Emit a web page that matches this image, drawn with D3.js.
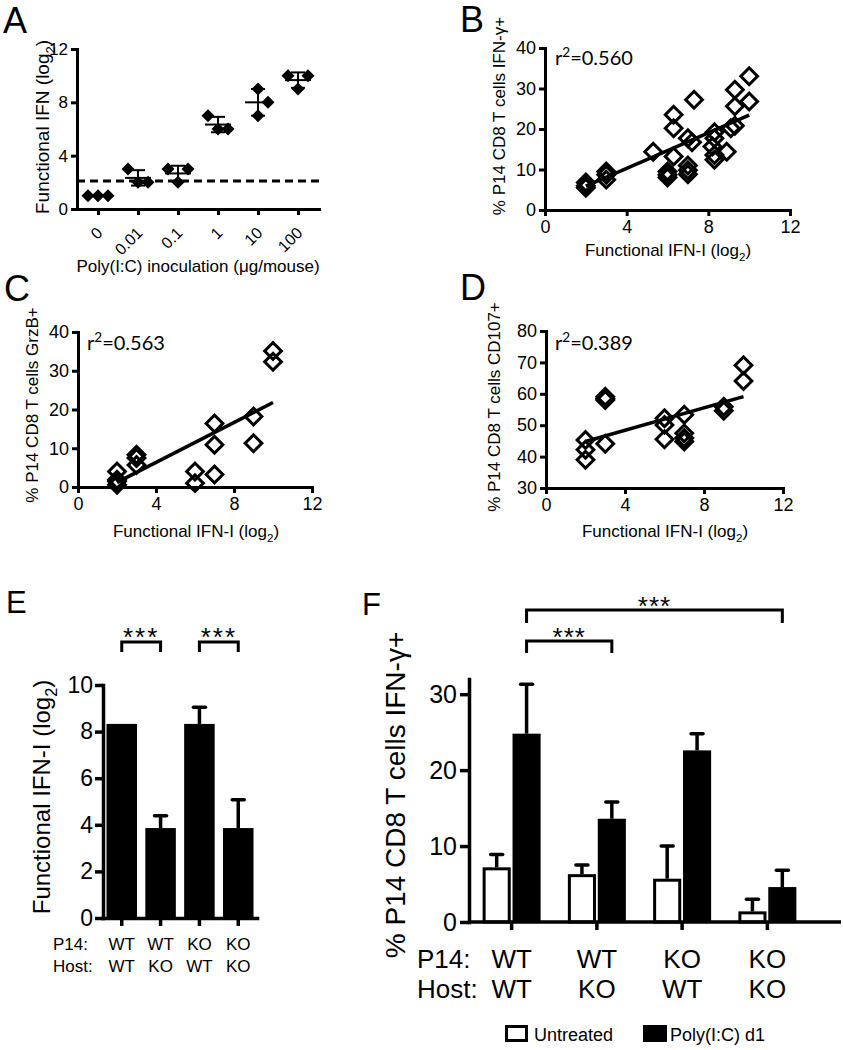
<!DOCTYPE html>
<html><head><meta charset="utf-8">
<script src="https://cdn.jsdelivr.net/npm/d3@7"></script>
<style>
body{margin:0;background:#fff;}
svg{display:block;font-family:"Liberation Sans",Arial,Helvetica,sans-serif;}
</style></head><body>
<svg id="fig" width="843" height="1050"></svg>
<script>
// ================= DATA =================
// Panel A: functional IFN (log2) per poly(I:C) dose
const aDoses = ["0", "0.01", "0.1", "1", "10", "100"];
const aValues = [[1, 1, 1], [3, 2, 2], [3, 2, 3], [7, 6, 6], [9, 7, 8], [10, 9, 10]];
const aDetectionLimit = 2.1;
const aYTicks = [0, 4, 8, 12];

// Panel B: % IFN-γ+ vs functional IFN-I
const bX = [2, 2, 2, 3, 3, 3, 5.3, 6, 6, 6, 6.3, 6.3, 6.3, 7, 7, 7, 7, 7.3, 7.2, 8.3, 8.3, 8.2, 8.3, 8.3, 8.9, 9.1, 9.3, 9.3, 9.3, 10, 10];
const bY = [6.8, 6.0, 5.5, 9.5, 8.7, 7.5, 14.4, 9.5, 8.7, 8.0, 23.5, 20.2, 13.2, 17.7, 11.0, 9.8, 8.8, 27.2, 16.7, 19.2, 17.7, 15.7, 13.6, 12.4, 14.4, 20.2, 29.7, 25.6, 20.8, 33.0, 26.8];
const bFit = [[2, 5.9], [10, 23.4]];
const bR2 = "0.560";

// Panel C: % GrzB+ vs functional IFN-I
const cX = [2, 2, 2, 2, 3, 3, 3, 6, 6, 7, 7, 7, 9, 9, 10, 10];
const cY = [4.0, 1.9, 1.5, 0.6, 8.3, 7.5, 5.7, 4.0, 1.0, 16.4, 10.9, 3.2, 18.2, 11.3, 35.1, 32.3];
const cFit = [[2, 1.2], [10, 21.8]];
const cR2 = "0.563";

// Panel D: % CD107+ vs functional IFN-I
const dX = [2, 2, 2, 3, 3, 3, 3, 6, 6, 6, 7, 7, 7, 7, 9, 9, 10, 10];
const dY = [45.3, 42.2, 39.0, 59.1, 58.5, 58.0, 44.1, 52.2, 50.1, 45.5, 53.3, 47.4, 45.9, 44.8, 55.9, 54.6, 69.1, 64.1];
const dFit = [[2, 44.8], [10, 59.1]];
const dR2 = "0.389";

const ifnXTicks = [0, 4, 8, 12];

// Panel E: functional IFN-I by P14 / host genotype
const eP14 = ["WT", "WT", "KO", "KO"];
const eHost = ["WT", "KO", "WT", "KO"];
const eMean = [8.33, 3.86, 8.33, 3.86];
const eErr = [0, 0.53, 0.71, 1.21];
const eYTicks = [0, 2, 4, 6, 8, 10];
const eSig = [[0, 1, "***"], [2, 3, "***"]];

// Panel F: % P14 IFN-γ+ by genotype and treatment
const fP14 = ["WT", "WT", "KO", "KO"];
const fHost = ["WT", "KO", "WT", "KO"];
const fSeries = ["Untreated", "Poly(I:C) d1"];
const fUntreated = [7.2, 6.3, 5.7, 1.4];
const fUntreatedErr = [1.7, 1.2, 4.3, 1.6];
const fPoly = [24.8, 13.6, 22.6, 4.6];
const fPolyErr = [6.5, 2.2, 2.2, 2.2];
const fYTicks = [0, 10, 20, 30];
const fSig = [[0, 1, "***"], [0, 3, "***"]];

// ================= HELPERS =================
const svg = d3.select("#fig");
svg.append("rect").attr("width", 843).attr("height", 1050).attr("fill", "#fff");

function richText(parent, x, y, parts, fs, anchor, rotate, family) {
  const t = parent.append("text").attr("font-size", fs).attr("text-anchor", anchor || "start").attr("fill", "#000");
  if (family) t.attr("font-family", family);
  if (rotate) t.attr("transform", `translate(${x},${y}) rotate(${rotate})`);
  else t.attr("x", x).attr("y", y);
  let shift = 0;
  parts.forEach(p => {
    const [s, type] = typeof p === "string" ? [p, ""] : p;
    const ts = t.append("tspan").text(s);
    const target = type === "sub" ? fs * 0.3 : type === "sup" ? -fs * 0.4 : 0;
    if (target !== shift) { ts.attr("dy", target - shift); shift = target; }
    if (type) ts.attr("font-size", fs * 0.68);
  });
  return t;
}

function drawAxis(g, axis, sw, fs) {
  g.call(axis);
  g.attr("font-family", null).attr("font-size", fs);
  g.select(".domain").attr("stroke", "#000").attr("stroke-width", sw).attr("stroke-linecap", "square");
  g.selectAll(".tick line").attr("stroke", "#000").attr("stroke-width", sw);
  g.selectAll(".tick text").attr("fill", "#000");
  return g;
}

function panelLetter(x, y, s, fs) {
  svg.append("text").attr("x", x).attr("y", y).attr("font-size", fs).attr("fill", "#000").text(s);
}

// ================= PANEL A =================
{
  const g = svg.append("g");
  const x = d3.scalePoint().domain(aDoses).range([77, 319]).padding(0.525);
  const y = d3.scaleLinear().domain([0, 12]).range([209, 49]);
  drawAxis(g.append("g").attr("transform", "translate(77,0)"),
    d3.axisLeft(y).tickValues(aYTicks).tickSize(6).tickSizeOuter(0).tickPadding(3), 3, 17);
  const gx = drawAxis(g.append("g").attr("transform", "translate(0,209)"),
    d3.axisBottom(x).tickSize(6).tickSizeOuter(0), 3, 16);
  gx.selectAll(".tick text").attr("x", null).attr("y", null).attr("dy", null)
    .attr("text-anchor", "end").attr("transform", "translate(5,25) rotate(-45)");

  // detection limit
  g.append("line").attr("x1", x.range()[0]).attr("x2", x.range()[1])
    .attr("y1", y(aDetectionLimit)).attr("y2", y(aDetectionLimit))
    .attr("stroke", "#000").attr("stroke-width", 3).attr("stroke-dasharray", "8,5");

  const jitter = [[-1, 0, 1], [-1, 0, 1], [-1, 0, 1], [-1, 0, 1], [0, 0, 1], [-1, 0, 1]];
  const pts = [];
  aValues.forEach((vals, i) => vals.forEach((v, j) => pts.push({ dose: aDoses[i], v, j: jitter[i][j] })));
  const sym = d3.symbol(d3.symbolSquare, 85)();
  g.selectAll("path.pt").data(pts).join("path").attr("class", "pt").attr("d", sym)
    .attr("transform", d => `translate(${x(d.dose) + d.j * 10},${y(d.v)}) rotate(45)`)
    .attr("fill", "#000");

  // mean ± SD
  aValues.forEach((vals, i) => {
    const m = d3.mean(vals), sd = d3.deviation(vals) || 0, cx = x(aDoses[i]);
    g.append("line").attr("x1", cx - 13).attr("x2", cx + 13).attr("y1", y(m)).attr("y2", y(m)).attr("stroke", "#000").attr("stroke-width", 2);
    if (sd > 0) {
      g.append("line").attr("x1", cx).attr("x2", cx).attr("y1", y(m - sd)).attr("y2", y(m + sd)).attr("stroke", "#000").attr("stroke-width", 2);
      [m - sd, m + sd].forEach(e => g.append("line").attr("x1", cx - 7).attr("x2", cx + 7).attr("y1", y(e)).attr("y2", y(e)).attr("stroke", "#000").attr("stroke-width", 2));
    }
  });

  richText(g, 49, 127, ["Functional IFN (log", ["2", "sub"], ")"], 19, "middle", -90);
  richText(g, 198, 272, ["Poly(I:C) inoculation (\u03bcg/mouse)"], 17, "middle");
  panelLetter(3, 33, "A", 36);
}

// ================= PANELS B, C, D =================
function scatter(cfg) {
  const g = svg.append("g");
  const x = d3.scaleLinear().domain([0, 12]).range(cfg.xr);
  const y = d3.scaleLinear().domain(cfg.yd).range(cfg.yr);
  drawAxis(g.append("g").attr("transform", `translate(${cfg.xr[0]},0)`),
    d3.axisLeft(y).tickValues(cfg.yt).tickSize(6).tickSizeOuter(0).tickPadding(3).tickFormat(d3.format("d")), 3, 18);
  drawAxis(g.append("g").attr("transform", `translate(0,${cfg.yr[0]})`),
    d3.axisBottom(x).tickValues(ifnXTicks).tickSize(6).tickSizeOuter(0).tickPadding(4).tickFormat(d3.format("d")), 3, 18);
  g.append("path").attr("d", d3.line().x(d => x(d[0])).y(d => y(d[1]))(cfg.fit))
    .attr("fill", "none").attr("stroke", "#000").attr("stroke-width", 3.5);
  const sym = d3.symbol(d3.symbolSquare, 140)();
  g.selectAll("path.pt").data(d3.zip(cfg.px, cfg.py)).join("path").attr("class", "pt").attr("d", sym)
    .attr("transform", d => `translate(${x(d[0])},${y(d[1])}) rotate(45)`)
    .attr("fill", "none").attr("stroke", "#000").attr("stroke-width", 3);
  richText(g, cfg.r2pos[0], cfg.r2pos[1], ["r", ["2", "sup"], "=" + cfg.r2], 20, "start", 0, "Lato, 'Open Sans', sans-serif");
  richText(g, cfg.ylab[0], cfg.ylab[1], [cfg.ytext], 17, "middle", -90);
  richText(g, cfg.xlab[0], cfg.xlab[1], ["Functional IFN-I (log", ["2", "sub"], ")"], 17, "middle");
  panelLetter(cfg.letter[0], cfg.letter[1], cfg.letter[2], 36);
}

scatter({ xr: [545, 790], yd: [0, 40], yr: [210, 48], yt: [0, 10, 20, 30, 40], px: bX, py: bY, fit: bFit, r2: bR2,
  r2pos: [555, 65], ylab: [505, 116], ytext: "% P14 CD8 T cells IFN-\u03b3+", xlab: [668, 256], letter: [460, 32, "B"] });
scatter({ xr: [78, 312], yd: [0, 40], yr: [487, 332], yt: [0, 10, 20, 30, 40], px: cX, py: cY, fit: cFit, r2: cR2,
  r2pos: [87, 350], ylab: [38, 405], ytext: "% P14 CD8 T cells GrzB+", xlab: [196, 537], letter: [4, 301, "C"] });
scatter({ xr: [546, 783], yd: [30, 80], yr: [488, 331], yt: [30, 40, 50, 60, 70, 80], px: dX, py: dY, fit: dFit, r2: dR2,
  r2pos: [555, 350], ylab: [500, 407], ytext: "% P14 CD8 T cells CD107+", xlab: [665, 537], letter: [460, 300, "D"] });

// ================= PANEL E =================
{
  const g = svg.append("g");
  const groups = eP14.map((p, i) => p + "/" + eHost[i]);
  const x = d3.scaleBand().domain(groups).range([103, 257]).paddingInner(0.214).paddingOuter(0.09);
  const y = d3.scaleLinear().domain([0, 10]).range([918, 685]);
  const sw = 3.5;
  // error bars (behind bars)
  groups.forEach((gr, i) => {
    if (eErr[i] <= 0) return;
    const cx = x(gr) + x.bandwidth() / 2;
    g.append("line").attr("x1", cx).attr("x2", cx).attr("y1", y(eMean[i])).attr("y2", y(eMean[i] + eErr[i])).attr("stroke", "#000").attr("stroke-width", sw);
    g.append("line").attr("x1", cx - 6).attr("x2", cx + 6).attr("y1", y(eMean[i] + eErr[i])).attr("y2", y(eMean[i] + eErr[i])).attr("stroke", "#000").attr("stroke-width", sw).attr("stroke-linecap", "round");
  });
  g.selectAll("rect.bar").data(groups).join("rect").attr("class", "bar")
    .attr("x", d => x(d)).attr("width", x.bandwidth())
    .attr("y", (d, i) => y(eMean[i])).attr("height", (d, i) => y(0) - y(eMean[i])).attr("fill", "#000");
  drawAxis(g.append("g").attr("transform", "translate(103,0)"),
    d3.axisLeft(y).tickValues(eYTicks).tickSize(8).tickSizeOuter(0).tickPadding(2), sw, 23);
  drawAxis(g.append("g").attr("transform", "translate(0,918)"),
    d3.axisBottom(x).tickSize(8).tickSizeOuter(0).tickFormat(""), sw, 17);

  // category labels
  const rows = [["P14:", eP14, 950], ["Host:", eHost, 972]];
  rows.forEach(([lab, vals, by]) => {
    g.append("text").attr("x", 53).attr("y", by).attr("font-size", 17).text(lab);
    g.selectAll(null).data(vals).join("text").attr("x", (d, i) => x(groups[i]) + x.bandwidth() / 2).attr("y", by)
      .attr("text-anchor", "middle").attr("font-size", 17).text(d => d);
  });

  // significance
  eSig.forEach(([a, b, s]) => {
    const x1 = x(groups[a]) + x.bandwidth() / 2, x2 = x(groups[b]) + x.bandwidth() / 2;
    g.append("path").attr("d", `M${x1},652V642H${x2}V652`).attr("fill", "none").attr("stroke", "#000").attr("stroke-width", 3);
    g.append("text").attr("x", (x1 + x2) / 2).attr("y", 646).attr("text-anchor", "middle").attr("font-size", 26).attr("letter-spacing", 2).text(s);
  });

  richText(g, 50, 797, ["Functional IFN-I (log", ["2", "sub"], ")"], 24, "middle", -90);
  panelLetter(6, 613, "E", 31);
}

// ================= PANEL F =================
{
  const g = svg.append("g");
  const groups = fP14.map((p, i) => p + "/" + fHost[i]);
  const x = d3.scaleBand().domain(groups).range([469, 810]);
  const sub = d3.scaleBand().domain(fSeries).range([-29, 29]).paddingInner(0.06);
  const y = d3.scaleLinear().domain([0, 32]).range([922, 679]);
  const sw = 3.5;
  const bw = sub.bandwidth();
  const center = gr => x(gr) + x.bandwidth() / 2;
  const series = [
    { name: fSeries[0], vals: fUntreated, err: fUntreatedErr, fill: "#fff" },
    { name: fSeries[1], vals: fPoly, err: fPolyErr, fill: "#000" }
  ];
  series.forEach(s => {
    groups.forEach((gr, i) => {
      const bx = center(gr) + sub(s.name);
      const cx = bx + bw / 2;
      const top = y(s.vals[i] + s.err[i]);
      g.append("line").attr("x1", cx).attr("x2", cx).attr("y1", y(s.vals[i])).attr("y2", top).attr("stroke", "#000").attr("stroke-width", sw);
      g.append("line").attr("x1", cx - 6).attr("x2", cx + 6).attr("y1", top).attr("y2", top).attr("stroke", "#000").attr("stroke-width", sw).attr("stroke-linecap", "round");
      if (s.fill === "#fff") {
        g.append("rect").attr("x", bx + 1.5).attr("width", bw - 3).attr("y", y(s.vals[i]) + 1.5)
          .attr("height", Math.max(0, y(0) - y(s.vals[i]) - 1.5)).attr("fill", "#fff").attr("stroke", "#000").attr("stroke-width", 3);
      } else {
        g.append("rect").attr("x", bx).attr("width", bw).attr("y", y(s.vals[i]))
          .attr("height", y(0) - y(s.vals[i])).attr("fill", "#000");
      }
    });
  });
  drawAxis(g.append("g").attr("transform", "translate(469,0)"),
    d3.axisLeft(y).tickValues(fYTicks).tickSize(9).tickSizeOuter(0).tickPadding(3), sw, 25);
  // y-axis extends above the top tick to the domain maximum; x axis runs to the panel edge
  const gx = drawAxis(g.append("g").attr("transform", "translate(0,922)"),
    d3.axisBottom(x).tickSize(8).tickSizeOuter(0).tickFormat(""), sw, 17);
  gx.select(".domain").remove();
  g.append("line").attr("x1", 469).attr("x2", 841).attr("y1", 922).attr("y2", 922).attr("stroke", "#000").attr("stroke-width", sw);

  const rows = [["P14:", fP14, 968], ["Host:", fHost, 998]];
  rows.forEach(([lab, vals, by]) => {
    g.append("text").attr("x", 417).attr("y", by).attr("font-size", 26).text(lab);
    g.selectAll(null).data(vals).join("text").attr("x", (d, i) => center(groups[i])).attr("y", by)
      .attr("text-anchor", "middle").attr("font-size", 26).text(d => d);
  });

  const sigY = [[653, 641, 646], [623, 610, 615]];
  fSig.forEach(([a, b, s], k) => {
    const x1 = center(groups[a]) + sub(fSeries[1]) + bw / 2, x2 = center(groups[b]) + sub(fSeries[1]) + bw / 2;
    const [yb, yt, ys] = sigY[k];
    g.append("path").attr("d", `M${x1},${yb}V${yt}H${x2}V${yb}`).attr("fill", "none").attr("stroke", "#000").attr("stroke-width", 3);
    g.append("text").attr("x", (x1 + x2) / 2).attr("y", ys).attr("text-anchor", "middle").attr("font-size", 26).attr("letter-spacing", 1).text(s);
  });

  // legend
  const leg = g.append("g");
  leg.append("rect").attr("x", 506.5).attr("y", 1026.5).attr("width", 20).attr("height", 14).attr("fill", "#fff").attr("stroke", "#000").attr("stroke-width", 3);
  leg.append("text").attr("x", 534).attr("y", 1041).attr("font-size", 18).text(fSeries[0]);
  leg.append("rect").attr("x", 643).attr("y", 1025).attr("width", 24).attr("height", 17).attr("fill", "#000");
  leg.append("text").attr("x", 670).attr("y", 1041).attr("font-size", 18).text(fSeries[1]);

  richText(g, 405, 795, ["% P14 CD8 T cells IFN-\u03b3+"], 28, "middle", -90);
  panelLetter(362, 615, "F", 31);
}
</script>
</body></html>
